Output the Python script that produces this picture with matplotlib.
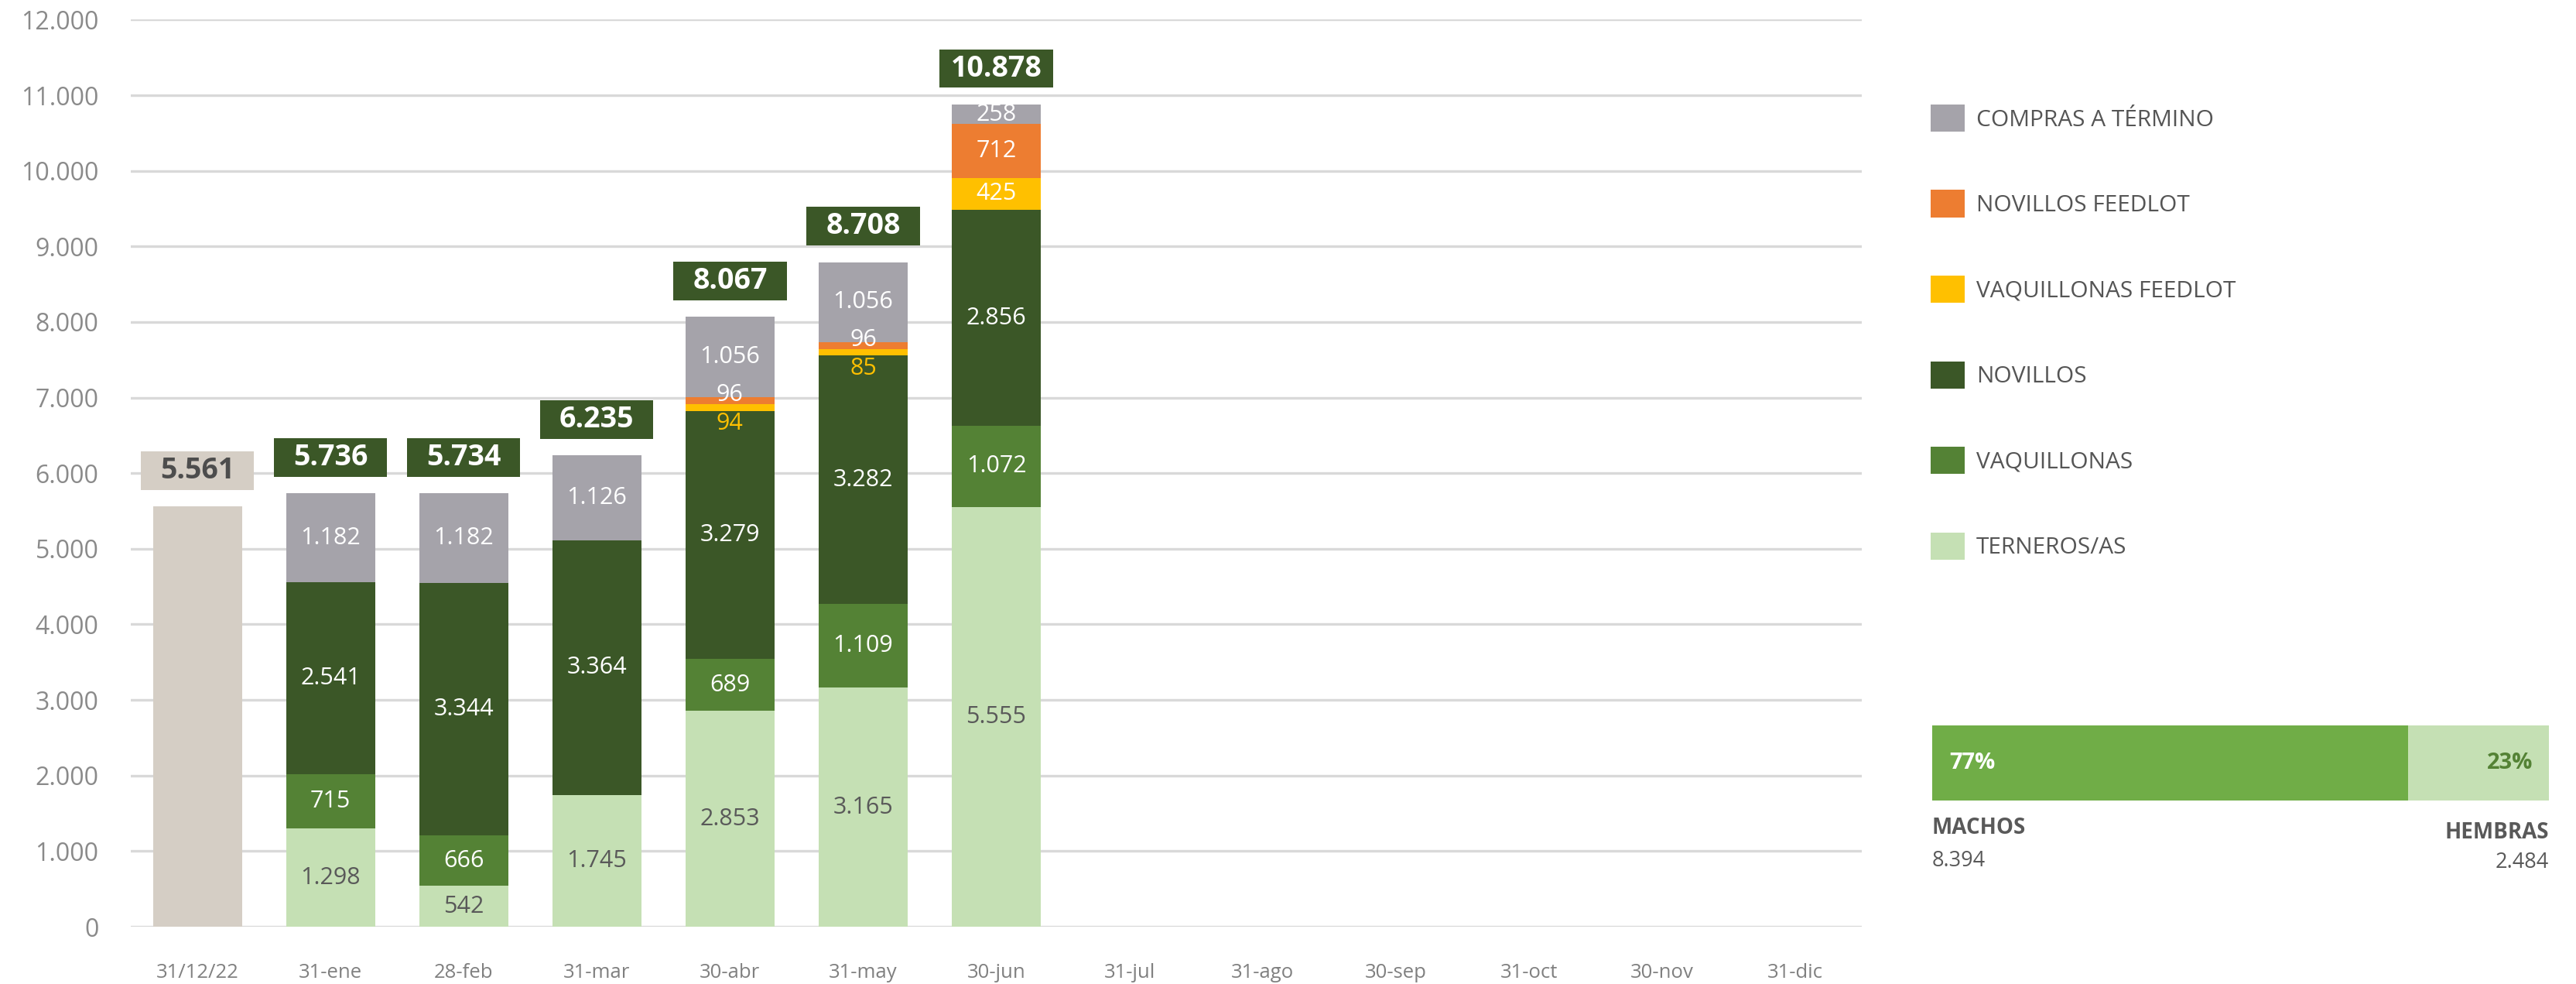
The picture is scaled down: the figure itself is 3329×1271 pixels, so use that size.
import numpy as np
import matplotlib.pyplot as plt
from matplotlib.ticker import FuncFormatter

plt.rcParams['font.family'] = ['Open Sans', 'DejaVu Sans']

# datos
fechas = ['31/12/22', '31-ene', '28-feb', '31-mar', '30-abr', '31-may', '30-jun',
          '31-jul', '31-ago', '30-sep', '31-oct', '30-nov', '31-dic']
inicial = 5561
terneros = [1298, 542, 1745, 2853, 3165, 5555]
vaquillonas = [715, 666, 0, 689, 1109, 1072]
novillos = [2541, 3344, 3364, 3279, 3282, 2856]
vaq_feedlot = [0, 0, 0, 94, 85, 425]
nov_feedlot = [0, 0, 0, 96, 96, 712]
compras = [1182, 1182, 1126, 1056, 1056, 258]
totales = [5561, 5736, 5734, 6235, 8067, 8708, 10878]
machos = 8394
hembras = 2484

series = [('TERNEROS/AS', terneros, '#c5e0b4', '#595959'),
          ('VAQUILLONAS', vaquillonas, '#548235', 'white'),
          ('NOVILLOS', novillos, '#3b5727', 'white'),
          ('VAQUILLONAS FEEDLOT', vaq_feedlot, '#ffc000', 'white'),
          ('NOVILLOS FEEDLOT', nov_feedlot, '#ed7d31', 'white'),
          ('COMPRAS A TÉRMINO', compras, '#a5a3aa', 'white')]


def fmt(v):
    return f'{int(v):,}'.replace(',', '.')


def main():
    fig = plt.figure(figsize=(33.3, 12.71), dpi=100)
    ax = fig.add_axes([0.0508, 0.0582, 0.6717, 0.9218])

    x = np.arange(len(fechas))
    xm = x[1:1 + len(terneros)]
    w = 0.667

    ax.bar(x[0], inicial, width=w, color='#d5cec5')

    bottom = np.zeros(len(xm))
    handles = []
    for name, vals, col, tcol in series:
        vals = np.array(vals, dtype=float)
        b = ax.bar(xm, vals, bottom=bottom, width=w, color=col, label=name)
        handles.append(b)
        for xi, v, b0 in zip(xm, vals, bottom):
            if v <= 0:
                continue
            if name == 'VAQUILLONAS FEEDLOT' and v < 200:
                ax.annotate(fmt(v), (xi, b0), xytext=(0, -1), textcoords='offset points',
                            ha='center', va='top', fontsize=22, color='#ffc000')
            elif name == 'NOVILLOS FEEDLOT' and v < 200:
                ax.annotate(fmt(v), (xi, b0 + v / 2), xytext=(0, 5), textcoords='offset points',
                            ha='center', va='center', fontsize=22, color='white')
            else:
                ax.text(xi, b0 + v / 2, fmt(v), ha='center', va='center',
                        fontsize=22, color=tcol)
        bottom += vals

    # cajas de totales
    tops = [inicial] + list(bottom)
    for i, (t, top) in enumerate(zip(totales, tops)):
        if i == 0:
            bc, tc = '#d5cec5', '#4d4d4d'
        else:
            bc, tc = '#3b5727', 'white'
        ax.bar(x[i], 510, bottom=top + 220, width=0.85, color=bc)
        ax.text(x[i], top + 220 + 255, fmt(t), ha='center', va='center',
                fontsize=27, fontweight='bold', color=tc)

    ax.set_xlim(-0.5, len(fechas) - 0.5)
    ax.set_ylim(0, 12000)
    ax.set_yticks(range(0, 12001, 1000))
    ax.yaxis.set_major_formatter(FuncFormatter(lambda v, p: fmt(v)))
    ax.set_xticks(x)
    ax.set_xticklabels(fechas)
    ax.tick_params(axis='y', length=0, pad=30, labelsize=23, labelcolor='#8a8a8a')
    ax.tick_params(axis='x', length=0, pad=34, labelsize=18.5, labelcolor='#808080')
    ax.grid(axis='y', color='#d9d9d9', linewidth=2.4)
    ax.set_axisbelow(True)
    for s in ax.spines.values():
        s.set_visible(False)

    fig.legend(handles=handles[::-1], loc='upper left',
               bbox_to_anchor=(0.7492, 0.8938), frameon=False,
               fontsize=21.5, labelcolor='#555555', borderpad=0, borderaxespad=0,
               handlelength=1.47, handleheight=1.44, handletextpad=0.5,
               labelspacing=2.52)

    # machos / hembras
    ax2 = fig.add_axes([0.7498, 0.1865, 0.2393, 0.0763])
    ax2.barh(0, machos, height=1, color='#70ad47')
    ax2.barh(0, hembras, left=machos, height=1, color='#c5e0b4')
    ax2.set_xlim(0, machos + hembras)
    ax2.set_ylim(-0.5, 0.5)
    ax2.axis('off')
    tot = machos + hembras
    ax2.text(0.028, 0.5, f'{round(machos / tot * 100)}%', transform=ax2.transAxes,
             ha='left', va='center', fontsize=21, fontweight='bold', color='white')
    ax2.text(0.974, 0.5, f'{round(hembras / tot * 100)}%', transform=ax2.transAxes,
             ha='right', va='center', fontsize=21, fontweight='bold', color='#548235')
    ax2.text(0, -0.37, 'MACHOS', transform=ax2.transAxes, ha='left', va='center',
             fontsize=20, fontweight='bold', color='#595959')
    ax2.text(0, -0.8, fmt(machos), transform=ax2.transAxes, ha='left', va='center',
             fontsize=19.5, color='#595959')
    ax2.text(1, -0.43, 'HEMBRAS', transform=ax2.transAxes, ha='right', va='center',
             fontsize=20, fontweight='bold', color='#595959')
    ax2.text(1, -0.83, fmt(hembras), transform=ax2.transAxes, ha='right', va='center',
             fontsize=19.5, color='#595959')

    fig.savefig('out.png', dpi=100)


if __name__ == "__main__":
    main()
